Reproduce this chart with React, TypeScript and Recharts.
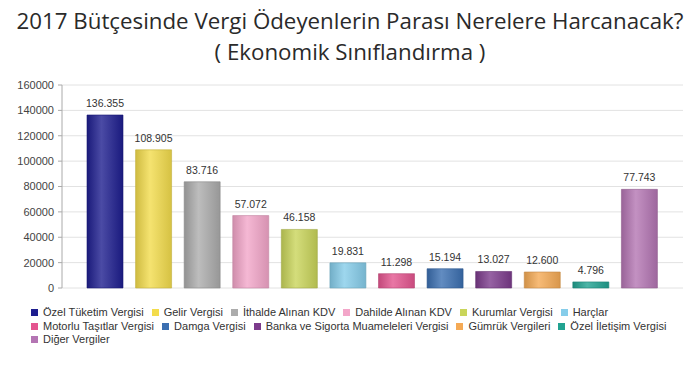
import { BarChart, Bar, XAxis, YAxis, CartesianGrid, LabelList, Cell } from 'recharts'

const CATEGORIES = [
  'Özel Tüketim Vergisi',
  'Gelir Vergisi',
  'İthalde Alınan KDV',
  'Dahilde Alınan KDV',
  'Kurumlar Vergisi',
  'Harçlar',
  'Motorlu Taşıtlar Vergisi',
  'Damga Vergisi',
  'Banka ve Sigorta Muameleleri Vergisi',
  'Gümrük Vergileri',
  'Özel İletişim Vergisi',
  'Diğer Vergiler',
]

const VALUES = [136355, 108905, 83716, 57072, 46158, 19831, 11298, 15194, 13027, 12600, 4796, 77743]

const COLORS = [
  '#1e1e8f', '#f3dc4c', '#acacac', '#f3a6c9', '#c9d55a', '#86cdea',
  '#e4558f', '#3b6fb1', '#7c3b8c', '#f5aa55', '#21a391', '#b475b3',
]

const Y_TICKS = [0, 20000, 40000, 60000, 80000, 100000, 120000, 140000, 160000]

const data = CATEGORIES.map((name, i) => ({ name, value: VALUES[i] }))

// mix a hex colour toward white (amt > 0) or black (amt < 0)
function shade(hex: string, amt: number) {
  const n = parseInt(hex.slice(1), 16)
  const ch = [(n >> 16) & 255, (n >> 8) & 255, n & 255].map((c) =>
    Math.round(amt > 0 ? c + (255 - c) * amt : c * (1 + amt))
  )
  return '#' + ch.map((c) => c.toString(16).padStart(2, '0')).join('')
}

const fmt = (v: number) => String(v).replace(/\B(?=(\d{3})+(?!\d))/g, '.')

export default function App() {
  return (
    <div
      style={{
        position: 'absolute',
        left: 0,
        top: 0,
        width: 700,
        height: 370,
        background: '#fff',
        fontFamily: 'Liberation Sans, Arial, sans-serif',
      }}
    >
      <div
        style={{
          position: 'absolute',
          top: 5,
          left: 0,
          width: 700,
          textAlign: 'center',
          fontFamily: '"Open Sans", sans-serif',
          fontSize: 22.3,
          lineHeight: '31px',
          color: '#2a2a2a',
        }}
      >
        <div>2017 Bütçesinde Vergi Ödeyenlerin Parası Nerelere Harcanacak?</div>
        <div>( Ekonomik Sınıflandırma )</div>
      </div>

      <div style={{ position: 'absolute', left: 0, top: 0 }}>
        <BarChart width={700} height={300} data={data} margin={{ top: 85, right: 17, left: 0, bottom: 12 }}>
          <defs>
            {COLORS.map((c, i) => (
              <linearGradient key={i} id={`g${i}`} x1="0" y1="0" x2="1" y2="0">
                <stop offset="0%" stopColor={shade(c, -0.15)} />
                <stop offset="40%" stopColor={shade(c, 0.2)} />
                <stop offset="100%" stopColor={shade(c, -0.12)} />
              </linearGradient>
            ))}
          </defs>
          <CartesianGrid vertical={false} stroke="#e2e2e2" />
          <XAxis
            dataKey="name"
            tick={false}
            height={0}
            padding={{ left: 19, right: 19 }}
            axisLine={{ stroke: '#aaa' }}
            tickLine={false}
          />
          <YAxis
            width={62}
            domain={[0, 160000]}
            ticks={Y_TICKS}
            interval={0}
            tick={{ fontSize: 11, fill: '#444' }}
            tickSize={4}
            tickMargin={4}
            axisLine={{ stroke: '#aaa' }}
            tickLine={{ stroke: '#aaa' }}
          />
          <Bar dataKey="value" barSize={36} isAnimationActive={false}>
            {data.map((_, i) => (
              <Cell key={i} fill={`url(#g${i})`} stroke={shade(COLORS[i], -0.2)} strokeWidth={0.6} />
            ))}
            <LabelList
              dataKey="value"
              position="top"
              offset={8}
              formatter={(v: any) => fmt(Number(v))}
              style={{ fontSize: 10.5, fill: '#333' }}
            />
          </Bar>
        </BarChart>
      </div>

      <div
        style={{
          position: 'absolute',
          left: 31,
          top: 306,
          width: 650,
          display: 'flex',
          flexWrap: 'wrap',
          fontSize: 11,
          lineHeight: '13.5px',
          color: '#333',
        }}
      >
        {CATEGORIES.map((name, i) => (
          <div key={name} style={{ display: 'flex', alignItems: 'center', marginRight: 8 }}>
            <span style={{ width: 7, height: 7, background: COLORS[i], marginRight: 5, display: 'inline-block' }} />
            <span>{name}</span>
          </div>
        ))}
      </div>
    </div>
  )
}
